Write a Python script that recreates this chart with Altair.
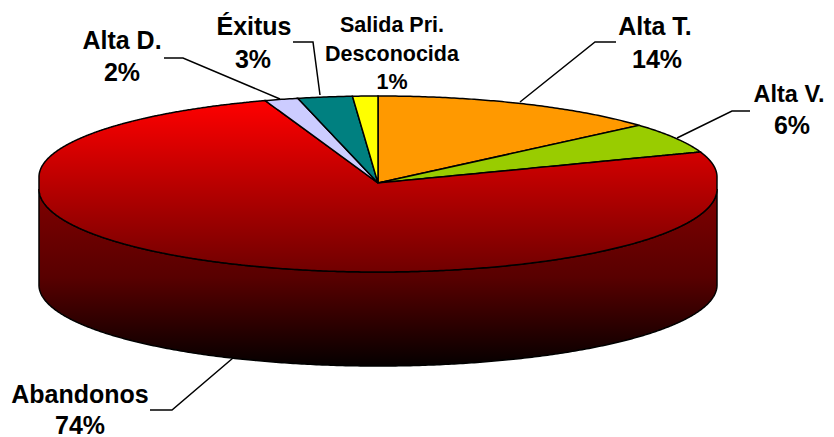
import altair as alt
import numpy as np
import pandas as pd

# Slices, clockwise from 12 o'clock
slice_names = ["Alta T.", "Alta V.", "Abandonos", "Alta D.", "Éxitus", "Salida"]
slice_values = [14.0, 6.0, 74.6, 1.6, 2.6, 1.2]
slice_fills = ["#FF9900", "#99CC00", "red", "#CCCCFF", "#008080", "#FFFF00"]

# Pie geometry in picture pixels
CX, CY, RX = 378.0, 183.0, 339.0
BACK_CY, BACK_RY = 177.0, 81.0
FRONT_CY, FRONT_RY = 189.0, 83.0
BOTTOM_CY, BOTTOM_RY = 285.0, 81.0

# Labels: text, x, baseline y, font size
label_text = ["Alta T.", "14%", "Alta V.", "6%", "Éxitus", "3%", "Alta D.", "2%",
              "Salida Pri.", "Desconocida", "1%", "Abandonos", "74%"]
label_x = [655, 657, 789, 792, 254, 253, 122, 122, 392, 392, 392, 80, 80]
label_y = [35, 68, 102, 134, 35, 68, 49, 81, 32, 61, 89, 403, 434]
label_size = [25, 25, 23.5, 25, 25, 25, 25, 25, 21.5, 21.5, 21.5, 25, 25]

# Leader lines
leader_id = ["T", "T", "T", "V", "V", "V", "E", "E", "E", "D", "D", "D", "A", "A", "A"]
leader_x = [520, 595, 616, 677, 732, 750, 293, 313, 320, 164, 183, 280, 150, 172, 233]
leader_y = [102, 42, 42, 138, 111, 111, 42, 42, 95, 58, 58, 99, 410, 410, 358]


def rim(deg):
    t = np.radians(deg)
    x = CX + RX * np.sin(t)
    c = np.cos(t)
    y = np.where(c >= 0, BACK_CY - BACK_RY * c, FRONT_CY - FRONT_RY * c)
    return x, y


def sector_frame(a0, a1):
    n = int(max(a1 - a0, 1) * 2) + 2
    # Keep the turning points of the rim so that the extremes are exact
    extra = [d for d in (90.0, 270.0) if a0 < d < a1]
    degs = np.unique(np.r_[np.linspace(a0, a1, n), extra])
    px, py = rim(degs)
    poly_x = np.r_[CX, px, CX]
    poly_y = np.r_[CY, py, CY]
    xs = np.unique(np.round(np.r_[px, CX], 4))
    top, bot = [], []
    for xv in xs:
        hits = []
        for i in range(len(poly_x) - 1):
            x0, x1, y0, y1 = poly_x[i], poly_x[i + 1], poly_y[i], poly_y[i + 1]
            if min(x0, x1) - 1e-3 <= xv <= max(x0, x1) + 1e-3:
                if abs(x1 - x0) < 1e-3:
                    hits += [y0, y1]
                else:
                    hits.append(y0 + (xv - x0) / (x1 - x0) * (y1 - y0))
        top.append(min(hits))
        bot.append(max(hits))
    return pd.DataFrame({"x": xs, "y": top, "y2": bot})


X = alt.X("x:Q", scale=alt.Scale(domain=[8, 826]), axis=None)
Y = alt.Y("y:Q", scale=alt.Scale(domain=[437, 8]), axis=None)
Y2 = alt.Y2("y2:Q")

top_red = alt.Gradient(gradient="linear", x1=0, x2=0, y1=0, y2=1,
                       stops=[alt.GradientStop(color="#FF0000", offset=0),
                              alt.GradientStop(color="#700000", offset=1)])
side_red = alt.Gradient(gradient="linear", x1=0, x2=0, y1=0, y2=1,
                        stops=[alt.GradientStop(color="#800000", offset=0),
                               alt.GradientStop(color="#580000", offset=0.5),
                               alt.GradientStop(color="#050000", offset=1)])

# Side wall
deg = np.linspace(90, 270, 361)
sx = CX + RX * np.sin(np.radians(deg))
cs = np.cos(np.radians(deg))
side = pd.DataFrame({"x": sx, "y": FRONT_CY - FRONT_RY * cs, "y2": BOTTOM_CY - BOTTOM_RY * cs}).sort_values("x")
layers = [alt.Chart(side).mark_area(color=side_red, stroke="black", strokeWidth=1.5)
          .encode(x=X, y=Y, y2=Y2)]

# Top face
total = sum(slice_values)
edges = np.cumsum([0] + slice_values) / total * 360
for i, fill in enumerate(slice_fills):
    frame = sector_frame(edges[i], edges[i + 1])
    col = top_red if fill == "red" else fill
    layers.append(alt.Chart(frame).mark_area(color=col, stroke="black", strokeWidth=1.5)
                  .encode(x=X, y=Y, y2=Y2))

leaders = pd.DataFrame({"id": leader_id, "x": leader_x, "y": leader_y,
                        "o": list(range(len(leader_id)))})
layers.append(alt.Chart(leaders).mark_line(color="black", strokeWidth=1.5)
              .encode(x=X, y=Y, detail="id:N", order="o:Q"))

labels = pd.DataFrame({"t": label_text, "x": label_x, "y": label_y, "s": label_size})
layers.append(alt.Chart(labels).mark_text(font="Liberation Sans", fontWeight="bold",
                                          baseline="alphabetic", align="center", color="black")
              .encode(x=X, y=Y, text="t:N", size=alt.Size("s:Q", scale=None, legend=None)))

chart = (alt.layer(*layers)
         .properties(width=818, height=429, padding=0,
                     autosize=alt.AutoSizeParams(type="none"),
                     background="white")
         .configure_view(stroke=None))
chart.save("out.html", embed_options={"renderer": "svg", "actions": False})
